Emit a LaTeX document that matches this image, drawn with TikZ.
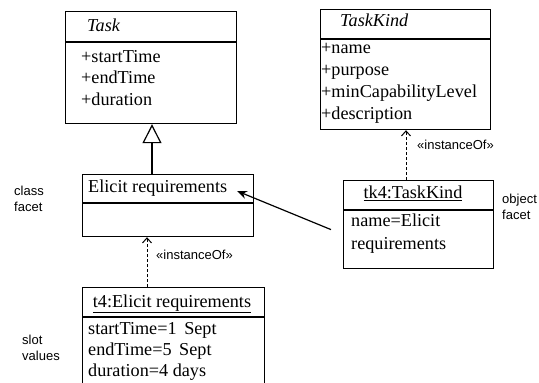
\documentclass[tikz,border=0pt]{standalone}
\usepackage{fontspec}
\setmainfont{Liberation Serif}
\newfontfamily\labfont{Liberation Sans}
\usetikzlibrary{arrows.meta,calc}
\tikzset{
  umlbox/.style={draw, line width=1.2pt, inner sep=0pt, anchor=north west},
  txt/.style={anchor=mid west, inner sep=0pt, font=\fontsize{18.2}{20}\selectfont},
  ttl/.style={anchor=mid, inner sep=0pt, font=\fontsize{18.2}{20}\selectfont},
  lab/.style={anchor=mid west, inner sep=0pt, font=\labfont\fontsize{13}{15}\selectfont},
  divider/.style={line width=1.2pt},
  inst/.style={line width=1pt, dash pattern=on 3pt off 2pt, -{Straight Barb[length=5pt,width=9pt]}},
  gen/.style={line width=1.2pt, -{Triangle[open,length=19pt,width=19pt]}},
  assoc/.style={line width=1.2pt, -{Stealth[length=10pt,width=8pt]}}
}
\begin{document}
\begin{tikzpicture}[x=1pt,y=-1pt]
\clip (0,0) rectangle (539,383);
\fill[white] (0,0) rectangle (539,383);
% boxes
\node[umlbox, minimum width=171pt, minimum height=112pt] (task) at (65,11) {};
\node[umlbox, minimum width=171pt, minimum height=62pt] (elicit) at (82,174) {};
\node[umlbox, minimum width=170pt, minimum height=120pt] (taskkind) at (320,9) {};
\node[umlbox, minimum width=150pt, minimum height=88pt] (tk4) at (343,180) {};
\node[umlbox, minimum width=182pt, minimum height=115pt] (t4) at (82,287) {};
% dividers
\draw[divider] (task.west |- 0,42) -- (task.east |- 0,42);
\draw[divider] (elicit.west |- 0,203) -- (elicit.east |- 0,203);
\draw[divider] (taskkind.west |- 0,39) -- (taskkind.east |- 0,39);
\draw[divider] (tk4.west |- 0,210) -- (tk4.east |- 0,210);
\draw[divider] (t4.west |- 0,317) -- (t4.east |- 0,317);
% Task
\node[txt] (tasktitle) at (87,29) {\itshape Task};
\node[txt] (ta1) at (81,60) {+startTime};
\node[txt] (ta2) at (81,81) {+endTime};
\node[txt] (ta3) at (81,103) {+duration};
% Elicit
\node[txt] (elicittitle) at (88,190) {Elicit requirements};
% TaskKind
\node[txt] (tktitle) at (340,24) {\itshape TaskKind};
\node[txt] (tk1) at (321,51) {+name};
\node[txt] (tk2) at (321,73) {+purpose};
\node[txt] (tk3) at (321,95) {+minCapabilityLevel};
\node[txt] (tk4a) at (321,117) {+description};
% tk4
\node[ttl] (tk4title) at (413,196) {\underline{tk4:TaskKind}};
\node[txt] (tk4s1) at (351,224) {name=Elicit};
\node[txt] (tk4s2) at (351,247) {requirements};
% t4
\node[ttl] (t4title) at (172,305) {\underline{t4:Elicit requirements}};
\node[txt] (t4s1) at (88,332) {startTime=1 \,Sept};
\node[txt] (t4s2) at (88,353) {endTime=5 \,Sept};
\node[txt] (t4s3) at (88,374) {duration=4 days};
% side labels
\node[lab] (c1) at (14,193) {class};
\node[lab] (c2) at (14,209) {facet};
\node[lab] (o1) at (502,201) {object};
\node[lab] (o2) at (502,217) {facet};
\node[lab] (s1) at (22,342) {slot};
\node[lab] (s2) at (22,358) {values};
\node[lab] (i1) at (417,147) {«instanceOf»};
\node[lab] (i2) at (156,257) {«instanceOf»};
% connectors
\draw[gen] ($(elicit.north west)+(70,0)$) -- ($(task.south west)+(87,0)$);
\draw[inst] ($(tk4.north west)+(63,0)$) -- ($(taskkind.south west)+(86,0)$);
\draw[inst] ($(t4.north west)+(65,0)$) -- ($(elicit.south west)+(65,0)$);
\coordinate (assocstart) at ($(tk4.west)+(-12,5)$);
\coordinate (assocend) at (237,191);
\draw[assoc] (assocstart) -- (assocend);
\end{tikzpicture}
\end{document}
